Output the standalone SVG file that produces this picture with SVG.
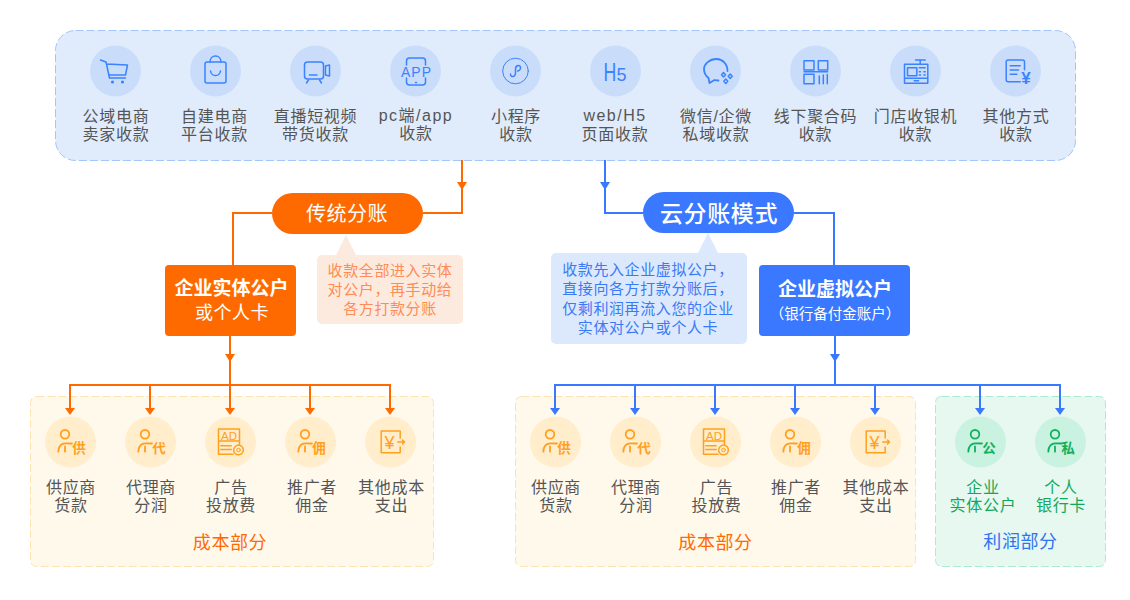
<svg xmlns="http://www.w3.org/2000/svg" xmlns:xlink="http://www.w3.org/1999/xlink" width="1130" height="600" viewBox="0 0 1130 600">
<style>
text{font-family:"Liberation Sans","Noto Sans CJK SC",sans-serif;text-anchor:middle}
.lb{font-size:16px;fill:#555;letter-spacing:.7px}
.lat{letter-spacing:1.5px}
.gr{fill:#12a85a;font-size:16px;letter-spacing:.7px}
.sec{font-size:18px;letter-spacing:.6px}
.tipo{font-size:15px;fill:#ff8c55;letter-spacing:.6px}
.tipb{font-size:15px;fill:#3a7bf5;letter-spacing:.6px}
.ico{fill:none;stroke-width:1.5;stroke-linejoin:round;stroke-linecap:round}
.b{stroke:#3b82ff}.o{stroke:#ffa01e}.g{stroke:#12b05e}
.cb{fill:#c9ddfb}.co{fill:#ffedcc}.cg{fill:#c9f2e0}
.lo{fill:none;stroke:#ff6a00;stroke-width:2}
.lbl{fill:none;stroke:#3a78ff;stroke-width:2}
.mk{font-size:13.500px;font-weight:700}
.ot{fill:#ffa01e}.bt{fill:#3b82ff}
</style>
<defs>
<g id="person" stroke-width="1.800"><circle cx="-5.500" cy="-7.700" r="4.300"/><path d="M-12.200 9.700C-12.200 4-9 1.300-5 1.300C-2 1.300 0 1.300 1.500 1.500M-5.500 4.500V9.700"/></g>
<g id="adic"><path d="M9 2.500V-13H-12V12.300H2.500M-12-1H9M-9.700 3.700H.7M-9.700 7.500H.7"/><circle cx="8" cy="8" r="4.800" stroke-dasharray="2 1"/><circle cx="8" cy="8" r="1.800" stroke-width="1"/></g>
<g id="yenic"><path d="M9.700-4V-11H-9.300V10.700H9.700V5M7.300 0H14M12-2L14 0L12 2"/></g>
</defs>

<g id="panel-top"><rect x="55.500" y="30.500" width="1020" height="130" rx="20" fill="#e0ecfc" stroke="#a3c6fa" stroke-dasharray="8 3"/></g>
<g id="panel-cost-left"><rect x="30.500" y="396.500" width="403" height="170" rx="6" fill="#fff9ec" stroke="#fde3b0" stroke-dasharray="8 3"/></g>
<g id="panel-cost-right"><rect x="515.500" y="396.500" width="400" height="170" rx="6" fill="#fff9ec" stroke="#fde3b0" stroke-dasharray="8 3"/></g>
<g id="panel-profit"><rect x="935.500" y="396.500" width="170" height="170" rx="6" fill="#e6f8f0" stroke="#a9ecd2" stroke-dasharray="8 3"/></g>

<g id="connectors">
<path class="lo" d="M462 160V213H423M272 213H233V265M230 336V385M70 413V385H390V413M150 385V413M230 385V413M310 385V413"/>
<path class="lbl" d="M605 160V213H643M794 213H834V265M835 336V385M555 413V385H1060V413M635 385V413M715 385V413M795 385V413M875 385V413M980 385V413"/>
<path fill="#ff6a00" d="M457 182h10l-5 8zM225 354h10l-5 8zM65 408h10l-5 7zM145 408h10l-5 7zM225 408h10l-5 7zM305 408h10l-5 7zM385 408h10l-5 7z"/>
<path fill="#3a78ff" d="M600 182h10l-5 8zM830 354h10l-5 8zM550 408h10l-5 7zM630 408h10l-5 7zM710 408h10l-5 7zM790 408h10l-5 7zM870 408h10l-5 7zM975 408h10l-5 7zM1055 408h10l-5 7z"/>
</g>

<g id="n-gongyu"><circle class="cb" cx="115.500" cy="71" r="25.500"/>
<g class="ico b" transform="translate(115.500 71)"><path d="M-15-11L-9.500-9L-6 7H10M-9-7L12-6L10 4H-6.500"/><circle cx="-3" cy="11" r=".8"/><circle cx="7" cy="11" r=".8"/></g>
<text class="lb" x="116" y="122">公域电商</text><text class="lb" x="116" y="140">卖家收款</text></g>

<g id="n-zijian"><circle class="cb" cx="215.500" cy="71" r="25.500"/>
<g class="ico b" transform="translate(215.500 71)"><rect x="-10.500" y="-9" width="21" height="21" rx="2"/><path d="M-5.500-9C-5.500-17 5.500-17 5.500-9M-5 0C-4 6 4 6 5 0"/></g>
<text class="lb" x="214.500" y="122">自建电商</text><text class="lb" x="214.500" y="140">平台收款</text></g>

<g id="n-zhibo"><circle class="cb" cx="315.500" cy="71" r="25.500"/>
<g class="ico b" transform="translate(315.500 71)"><rect x="-11" y="-9" width="19" height="17" rx="3"/><path d="M-6 4H1.500M10-5L14-6V5L10 4ZM-7 9L-9 12M4 9L6 12"/></g>
<text class="lb" x="315.500" y="122">直播短视频</text><text class="lb" x="315.500" y="140">带货收款</text></g>

<g id="n-app"><circle class="cb" cx="415.500" cy="71" r="25.500"/>
<g class="ico b" transform="translate(415.500 71)"><path d="M-9-6V-10Q-9-13-6-13H7Q10-13 10-10V-6M-9 7V11Q-9 14-6 14H7Q10 14 10 11V7M0 11.500H1"/></g>
<text class="bt" x="416.500" y="76.700" font-size="14" letter-spacing="1">APP</text>
<text class="lb lat" x="416" y="121">pc端/app</text><text class="lb" x="416" y="139">收款</text></g>

<g id="n-xiaochengxu"><circle class="cb" cx="515.500" cy="71" r="25.500"/>
<g class="ico b" transform="translate(515.500 71)"><circle r="12.800" stroke-width="1"/><path d="M-5 3C-5 7 0 6 0 2V-2C0-6 5-7 5-3C5-1 3 0 2 0"/></g>
<text class="lb" x="516" y="122">小程序</text><text class="lb" x="516" y="140">收款</text></g>

<g id="n-h5"><circle class="cb" cx="615.500" cy="71" r="25.500"/>
<text class="bt" transform="translate(603.600 81) scale(.68 1)" font-size="26" style="text-anchor:start">H</text>
<text class="bt" x="616.500" y="81" font-size="18" style="text-anchor:start">5</text>
<text class="lb lat" x="615" y="121">web/H5</text><text class="lb" x="615" y="140">页面收款</text></g>

<g id="n-weixin"><circle class="cb" cx="715.500" cy="71" r="25.500"/>
<g class="ico b" transform="translate(715.500 71)"><path d="M12 0C12-7 7-12 1-12C-6-12-11.500-7-11.500-2C-11.500 2-9.500 5-7 7L-6 12L-1 9C1 9.500 2 9.500 3 9.500" stroke-width="1.800"/><path d="M8 1.500L10 3.700L8 6L6 3.700ZM14.700 3L16.700 5.300L14.700 7.500L12.700 5.300ZM10.300 8L12.300 10.300L10.300 12.500L8.300 10.300Z"/></g>
<text class="lb" x="716" y="122">微信/企微</text><text class="lb" x="716" y="140">私域收款</text></g>

<g id="n-juhe"><circle class="cb" cx="815.500" cy="71" r="25.500"/>
<g class="ico b" transform="translate(815.500 71)"><rect x="-11.500" y="-10.300" width="10" height="9.300"/><rect x="2.800" y="-10.300" width="9.400" height="9.300"/><rect x="-11.500" y="3.300" width="10" height="9.400"/><path d="M-11.500 .7H12.200M3.800 12.700V5M7.800 12.700V4M11.800 12.700V3.500"/></g>
<text class="lb" x="815.500" y="122">线下聚合码</text><text class="lb" x="815.500" y="140">收款</text></g>

<g id="n-shouyin"><circle class="cb" cx="915.500" cy="71" r="25.500"/>
<g class="ico b" transform="translate(915.500 71)"><path d="M0-11H9.700M4.700-11V-6.700M-11-6.700H12.300V12.300H-11ZM-11 7.300H12.300M-1.300 9.700H3"/><rect x="-8" y="-3.300" width="9.300" height="8"/><path d="M3.700-3.300H9.700M3.700 .7H5M8.400 .7H9.700M3.700 4H5M8.400 4H9.700"/></g>
<text class="lb" x="915.500" y="122">门店收银机</text><text class="lb" x="915.500" y="140">收款</text></g>

<g id="n-qita"><circle class="cb" cx="1015.500" cy="71" r="25.500"/>
<g class="ico b" transform="translate(1015.500 71)"><path d="M9-1.300V-9Q9-11 7-11H-7.300Q-9.300-11-9.300-9V8.700Q-9.300 10.700-7.300 10.700H4.700M-5.300-5.300H4.700M-5.300-1H3M-5.300 3.300H1.300"/></g>
<text class="bt" x="1026" y="84" font-size="17" font-weight="700">¥</text>
<text class="lb" x="1016" y="122">其他方式</text><text class="lb" x="1016" y="140">收款</text></g>

<g id="n-chuantong"><rect x="272" y="193" width="151" height="41" rx="20.500" fill="#ff6a00"/><text x="347" y="221" font-size="20" fill="#fff" letter-spacing=".5">传统分账</text></g>
<g id="n-chuantong-tip"><path d="M346 235L336 255H356Z" fill="#fdeadf"/><rect x="317" y="255" width="146" height="69" rx="5" fill="#fdeadf"/>
<text class="tipo" x="390" y="276">收款全部进入实体</text><text class="tipo" x="390" y="295">对公户，再手动给</text><text class="tipo" x="390" y="314">各方打款分账</text></g>
<g id="n-shiti"><rect x="165" y="265" width="131" height="71" rx="4" fill="#ff6a00"/><text x="231.500" y="295" font-size="19" font-weight="700" fill="#fff">企业实体公户</text><text x="232" y="319" font-size="18" fill="#fff" letter-spacing=".5">或个人卡</text></g>

<g id="n-yun"><rect x="643" y="192" width="151" height="41" rx="20.500" fill="#3a78ff"/><text x="719" y="222" font-size="23" font-weight="500" fill="#fff" letter-spacing=".6">云分账模式</text></g>
<g id="n-yun-tip"><path d="M708 233L698 253H718Z" fill="#dce9fd"/><rect x="551" y="253" width="196" height="91" rx="5" fill="#dce9fd"/>
<text class="tipb" x="648" y="275">收款先入企业虚拟公户，</text><text class="tipb" x="648" y="294">直接向各方打款分账后，</text><text class="tipb" x="648" y="314">仅剩利润再流入您的企业</text><text class="tipb" x="648" y="333">实体对公户或个人卡</text></g>
<g id="n-xuni"><rect x="759" y="265" width="151" height="71" rx="4" fill="#3a78ff"/><text x="835" y="296" font-size="19" font-weight="700" fill="#fff">企业虚拟公户</text><text x="835" y="319" font-size="14.500" fill="#fff">（银行备付金账户）</text></g>

<!-- left cost -->
<g id="l-gong"><circle class="co" cx="70.500" cy="442" r="25.500"/><g class="ico o" transform="translate(70.500 442)"><use xlink:href="#person"/></g><text class="mk ot" x="79" y="453">供</text>
<text class="lb" x="71" y="493">供应商</text><text class="lb" x="71" y="511">货款</text></g>
<g id="l-dai"><circle class="co" cx="150.500" cy="442" r="25.500"/><g class="ico o" transform="translate(150.500 442)"><use xlink:href="#person"/></g><text class="mk ot" x="159" y="453">代</text>
<text class="lb" x="151" y="493">代理商</text><text class="lb" x="151" y="511">分润</text></g>
<g id="l-ad"><circle class="co" cx="230.500" cy="442" r="25.500"/><g class="ico o" transform="translate(230.500 442)"><use xlink:href="#adic"/></g><text class="ot" x="229" y="440" font-size="11.500">AD</text>
<text class="lb" x="231" y="493">广告</text><text class="lb" x="231" y="511">投放费</text></g>
<g id="l-yong"><circle class="co" cx="310.500" cy="442" r="25.500"/><g class="ico o" transform="translate(310.500 442)"><use xlink:href="#person"/></g><text class="mk ot" x="319" y="453">佣</text>
<text class="lb" x="312" y="493">推广者</text><text class="lb" x="312" y="511">佣金</text></g>
<g id="l-qita"><circle class="co" cx="390.500" cy="442" r="25.500"/><g class="ico o" transform="translate(390.500 442)"><use xlink:href="#yenic"/></g><text class="ot" x="389.500" y="449" font-size="18">¥</text>
<text class="lb" x="391.500" y="493">其他成本</text><text class="lb" x="391.500" y="511">支出</text></g>
<text id="l-sec" class="sec" x="230" y="549" fill="#ff6a00">成本部分</text>

<!-- right cost -->
<g id="r-gong"><circle class="co" cx="555.500" cy="442" r="25.500"/><g class="ico o" transform="translate(555.500 442)"><use xlink:href="#person"/></g><text class="mk ot" x="564" y="453">供</text>
<text class="lb" x="556" y="493">供应商</text><text class="lb" x="556" y="511">货款</text></g>
<g id="r-dai"><circle class="co" cx="635.500" cy="442" r="25.500"/><g class="ico o" transform="translate(635.500 442)"><use xlink:href="#person"/></g><text class="mk ot" x="644" y="453">代</text>
<text class="lb" x="636" y="493">代理商</text><text class="lb" x="636" y="511">分润</text></g>
<g id="r-ad"><circle class="co" cx="715.500" cy="442" r="25.500"/><g class="ico o" transform="translate(715.500 442)"><use xlink:href="#adic"/></g><text class="ot" x="714" y="440" font-size="11.500">AD</text>
<text class="lb" x="716.500" y="493">广告</text><text class="lb" x="716.500" y="511">投放费</text></g>
<g id="r-yong"><circle class="co" cx="795.500" cy="442" r="25.500"/><g class="ico o" transform="translate(795.500 442)"><use xlink:href="#person"/></g><text class="mk ot" x="804" y="453">佣</text>
<text class="lb" x="796" y="493">推广者</text><text class="lb" x="796" y="511">佣金</text></g>
<g id="r-qita"><circle class="co" cx="875.500" cy="442" r="25.500"/><g class="ico o" transform="translate(875.500 442)"><use xlink:href="#yenic"/></g><text class="ot" x="874.500" y="449" font-size="18">¥</text>
<text class="lb" x="876" y="493">其他成本</text><text class="lb" x="876" y="511">支出</text></g>
<text id="r-sec" class="sec" x="715.500" y="549" fill="#ff6a00">成本部分</text>

<!-- profit -->
<g id="p-gong"><circle class="cg" cx="980.500" cy="442" r="25.500"/><g class="ico g" transform="translate(980.500 442)"><use xlink:href="#person"/></g><text class="mk" x="989" y="453" fill="#12b05e">公</text>
<text class="gr" x="983" y="493">企业</text><text class="gr" x="983" y="511">实体公户</text></g>
<g id="p-si"><circle class="cg" cx="1060.500" cy="442" r="25.500"/><g class="ico g" transform="translate(1060.500 442)"><use xlink:href="#person"/></g><text class="mk" x="1068" y="453" fill="#12b05e">私</text>
<text class="gr" x="1061" y="493">个人</text><text class="gr" x="1061" y="511">银行卡</text></g>
<text id="p-sec" class="sec" x="1020.500" y="548" fill="#2f74f0">利润部分</text>
</svg>
